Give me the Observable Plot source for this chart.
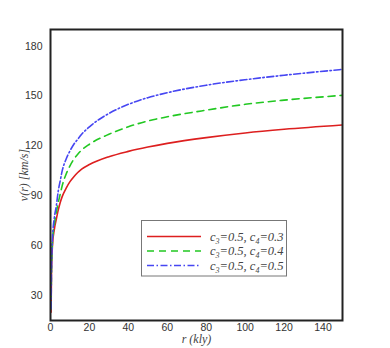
<!DOCTYPE html>
<html>
<head>
<meta charset="utf-8">
<script src="https://cdn.jsdelivr.net/npm/d3@7"></script>
<script src="https://cdn.jsdelivr.net/npm/@observablehq/plot@0.6"></script>
<style>
  html, body { margin: 0; padding: 0; background: #fff; }
  #chart { width: 390px; height: 348px; }
</style>
</head>
<body>
<div id="chart"></div>
<script>
// radius in kly
const radius = [0.3, 0.5, 1, 2, 3, 4, 5, 6, 8, 10, 12, 14, 16, 20, 30, 40, 50, 60, 80, 100, 120, 150];
// v(r) in km/s for each series
const vC4_03 = [20, 42, 60, 70, 76, 81.5, 86, 89.5, 94.5, 98.5, 101.5, 104, 106, 108.8, 113.5, 116.7, 119.3, 121.5, 125, 127.8, 130, 132.6];
const vC4_04 = [22, 45, 62, 73, 80, 86, 91, 96, 103, 108, 112, 115, 117.5, 121, 127, 131.5, 135, 137.5, 141.5, 145, 147.5, 150.4];
const vC4_05 = [22, 46, 64, 77, 84, 93, 99, 105, 112, 117, 121, 124, 127, 131.5, 139.5, 145, 149, 152, 156.5, 159.8, 162.5, 166];
const seriesLabels = ["c3=0.5, c4=0.3", "c3=0.5, c4=0.4", "c3=0.5, c4=0.5"];
const xTicks = [0, 20, 40, 60, 80, 100, 120, 140];
const yTicks = [30, 60, 90, 120, 150, 180];

const seriesValues = [vC4_03, vC4_04, vC4_05];
const colors = ["#dd1f1f", "#22c822", "#4646f2"];
const dashes = [null, "7,5", "7,2.5,1.5,2.5"];

const rows = seriesValues.map((vals, i) => radius.map((r, j) => ({r, v: vals[j], s: i})));

const serif = "'Liberation Serif', 'DejaVu Serif', serif";
const sans = "'Liberation Sans', Arial, sans-serif";

const plot = Plot.plot({
  width: 390,
  height: 348,
  marginLeft: 50,
  marginRight: 48,
  marginTop: 29,
  marginBottom: 28,
  style: {fontFamily: sans, fontSize: "10.5px", color: "#333", background: "#fff"},
  x: {domain: [0, 150]},
  y: {domain: [15, 190]},
  marks: [
    ...rows.map((d, i) => Plot.line(d, {
      x: "r", y: "v", stroke: colors[i], strokeWidth: 1.6,
      strokeDasharray: dashes[i], curve: "monotone-x", clip: true
    })),
    Plot.axisX({ticks: xTicks, tickSize: 0, tickPadding: 3, label: null, fill: "#333"}),
    Plot.axisY({ticks: yTicks, tickSize: 0, tickPadding: 8, label: null, fill: "#333"}),
    Plot.frame({stroke: "#222", strokeWidth: 2}),
    Plot.text(["r (kly)"], {frameAnchor: "bottom", dy: 19, lineAnchor: "middle", textAnchor: "middle",
      fontStyle: "italic", fontFamily: serif, fontSize: 12, fill: "#444"}),
    Plot.text(["v(r) [km/s]"], {frameAnchor: "left", dx: -26, rotate: -90, lineAnchor: "middle", textAnchor: "middle",
      fontStyle: "italic", fontFamily: serif, fontSize: 12, fill: "#444"})
  ]
});
document.getElementById("chart").appendChild(plot);

// Legend
const svg = d3.select(plot);
const lg = svg.append("g").attr("class", "legend").attr("text-anchor", "start");
lg.append("rect").attr("x", 141.5).attr("y", 220.5).attr("width", 145).attr("height", 55.5)
  .attr("fill", "#fff").attr("stroke", "#777").attr("stroke-width", 1);
const rowY = [236.5, 251, 265.5];
seriesLabels.forEach((lab, i) => {
  lg.append("line").attr("x1", 147).attr("x2", 201).attr("y1", rowY[i]).attr("y2", rowY[i])
    .attr("stroke", colors[i]).attr("stroke-width", 1.6)
    .attr("stroke-dasharray", dashes[i]);
  const parts = lab.match(/^c(\d)=([^,]+), c(\d)=(.+)$/);
  const t = lg.append("text").attr("x", 210).attr("y", rowY[i] + 4).attr("text-anchor", "start")
    .attr("font-family", serif).attr("font-style", "italic").attr("font-size", 12.5).attr("fill", "#444");
  t.append("tspan").text("c");
  t.append("tspan").attr("dy", 3).attr("font-size", 8).text(parts[1]);
  t.append("tspan").attr("dy", -3).text("=" + parts[2] + ", c");
  t.append("tspan").attr("dy", 3).attr("font-size", 8).text(parts[3]);
  t.append("tspan").attr("dy", -3).text("=" + parts[4]);
});
</script>
</body>
</html>
